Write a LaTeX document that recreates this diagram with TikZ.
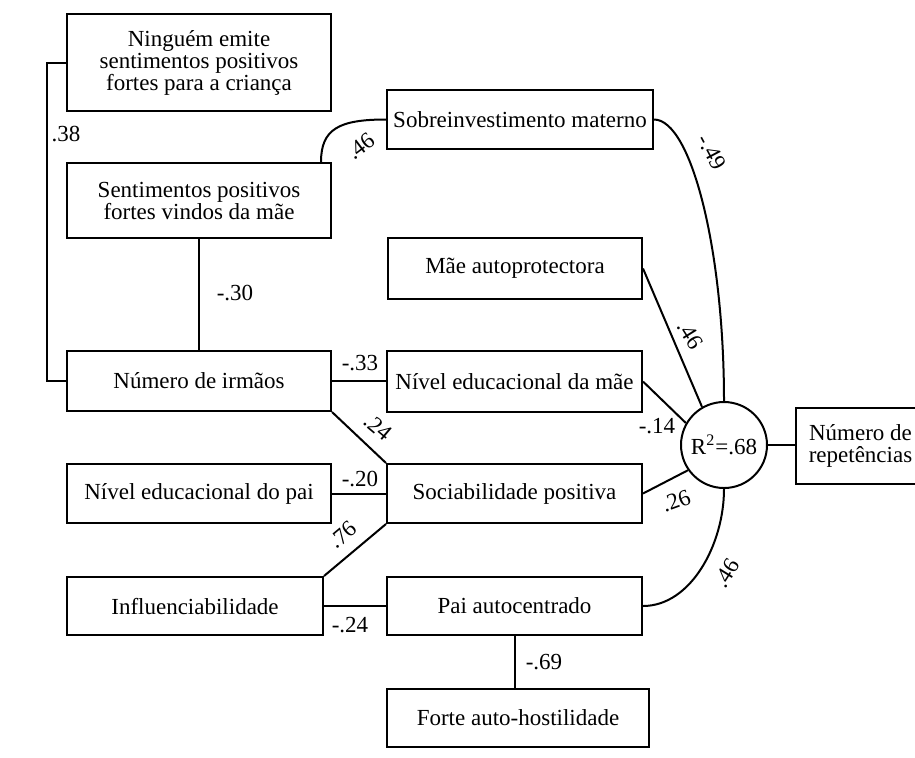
\documentclass[tikz,border=0pt]{standalone}
\usepackage{fontspec}
\setmainfont{Liberation Serif}
\tikzset{
  caixa/.style={draw, line width=1pt, inner sep=0pt, align=center, font=\fontsize{11.5}{11}\selectfont},
  coef/.style={inner sep=0pt, font=\fontsize{11.5}{11}\selectfont},
  liga/.style={line width=1pt}
}
\begin{document}
\begin{tikzpicture}[x=0.5pt,y=-0.5pt]
\useasboundingbox (0,0) rectangle (915,757);
% caixas
\node[caixa,minimum width=132pt,minimum height=48.5pt] (nin) at (199,62.5) {Ninguém emite\\sentimentos positivos\\fortes para a criança};
\node[caixa,minimum width=132pt,minimum height=37.5pt] (sent) at (199,200.5) {Sentimentos positivos\\fortes vindos da mãe};
\node[caixa,minimum width=133pt,minimum height=29.5pt] (sobre) at (520,119.5) {Sobreinvestimento materno};
\node[caixa,minimum width=127pt,minimum height=30.5pt] (maeauto) at (515,268.5) {Mãe autoprotectora};
\node[caixa,minimum width=127.5pt,minimum height=30.5pt] (nivmae) at (514.5,381.5) {Nível educacional da mãe};
\node[caixa,minimum width=132pt,minimum height=30pt] (nirm) at (199,381) {Número de irmãos};
\node[caixa,minimum width=132pt,minimum height=29.5pt] (nivpai) at (199,493.5) {Nível educacional do pai};
\node[caixa,minimum width=127.5pt,minimum height=29.5pt] (soc) at (514.5,493.5) {Sociabilidade positiva};
\node[caixa,minimum width=128pt,minimum height=29pt] (infl) at (195,606) {Influenciabilidade};
\node[caixa,minimum width=127.5pt,minimum height=29pt] (pai) at (514.5,606) {Pai autocentrado};
\node[caixa,minimum width=131pt,minimum height=29pt] (forte) at (518,718) {Forte auto-hostilidade};
\node[caixa,circle,minimum size=43pt] (rsq) at (724,445) {R\textsuperscript{2}=.68};
\node[caixa,minimum width=64.5pt,minimum height=38pt] (rep) at (860.5,446) {Número de\\repetências};

% ligacoes
\draw[liga] (nin.west) -- ++(-19,0) |- (nirm.west);
\draw[liga] (sent.south) -- (nirm.north);
\draw[liga] ([xshift=-5.5pt]sent.north east) .. controls +(0,-33) and +(-47,0) .. (sobre.west);
\draw[liga] (nirm.east) -- (nirm.east -| nivmae.west);
\draw[liga] (nirm.south east) -- (soc.north west);
\draw[liga] (nivpai.east) -- (soc.west);
\draw[liga] (infl.north east) -- (soc.south west);
\draw[liga] (infl.east) -- (infl.east -| pai.west);
\draw[liga] (pai.south) -- (pai.south |- forte.north);
\draw[liga] (sobre.east) .. controls +(37,0) and +(0,-152) .. (rsq.north);
\draw[liga] (maeauto.east) -- (rsq.120);
\draw[liga] (nivmae.east) -- (rsq.150);
\draw[liga] (soc.east) -- (rsq.215);
\draw[liga] (pai.east) .. controls +(48,0) and +(0,55) .. (rsq.south);
\draw[liga] (rsq.east) -- (rsq.east -| rep.west);

% coeficientes
\node[coef] (c38) at (66,134) {.38};
\node[coef,rotate=37] (c46a) at (361,146) {.46};
\node[coef] (c30) at (235,293) {-.30};
\node[coef] (c33) at (360,363) {-.33};
\node[coef,rotate=-40] (c24a) at (378,427) {.24};
\node[coef] (c20) at (360,479) {-.20};
\node[coef,rotate=40] (c76) at (343,535) {.76};
\node[coef] (c24b) at (350,625) {-.24};
\node[coef] (c69) at (544,662) {-.69};
\node[coef,rotate=-62] (c49) at (712,152) {-.49};
\node[coef,rotate=-58] (c46b) at (690,335) {.46};
\node[coef] (c14) at (657,426) {-.14};
\node[coef,rotate=20] (c26) at (676,501) {.26};
\node[coef,rotate=58] (c46c) at (727,573) {.46};
\end{tikzpicture}
\end{document}
